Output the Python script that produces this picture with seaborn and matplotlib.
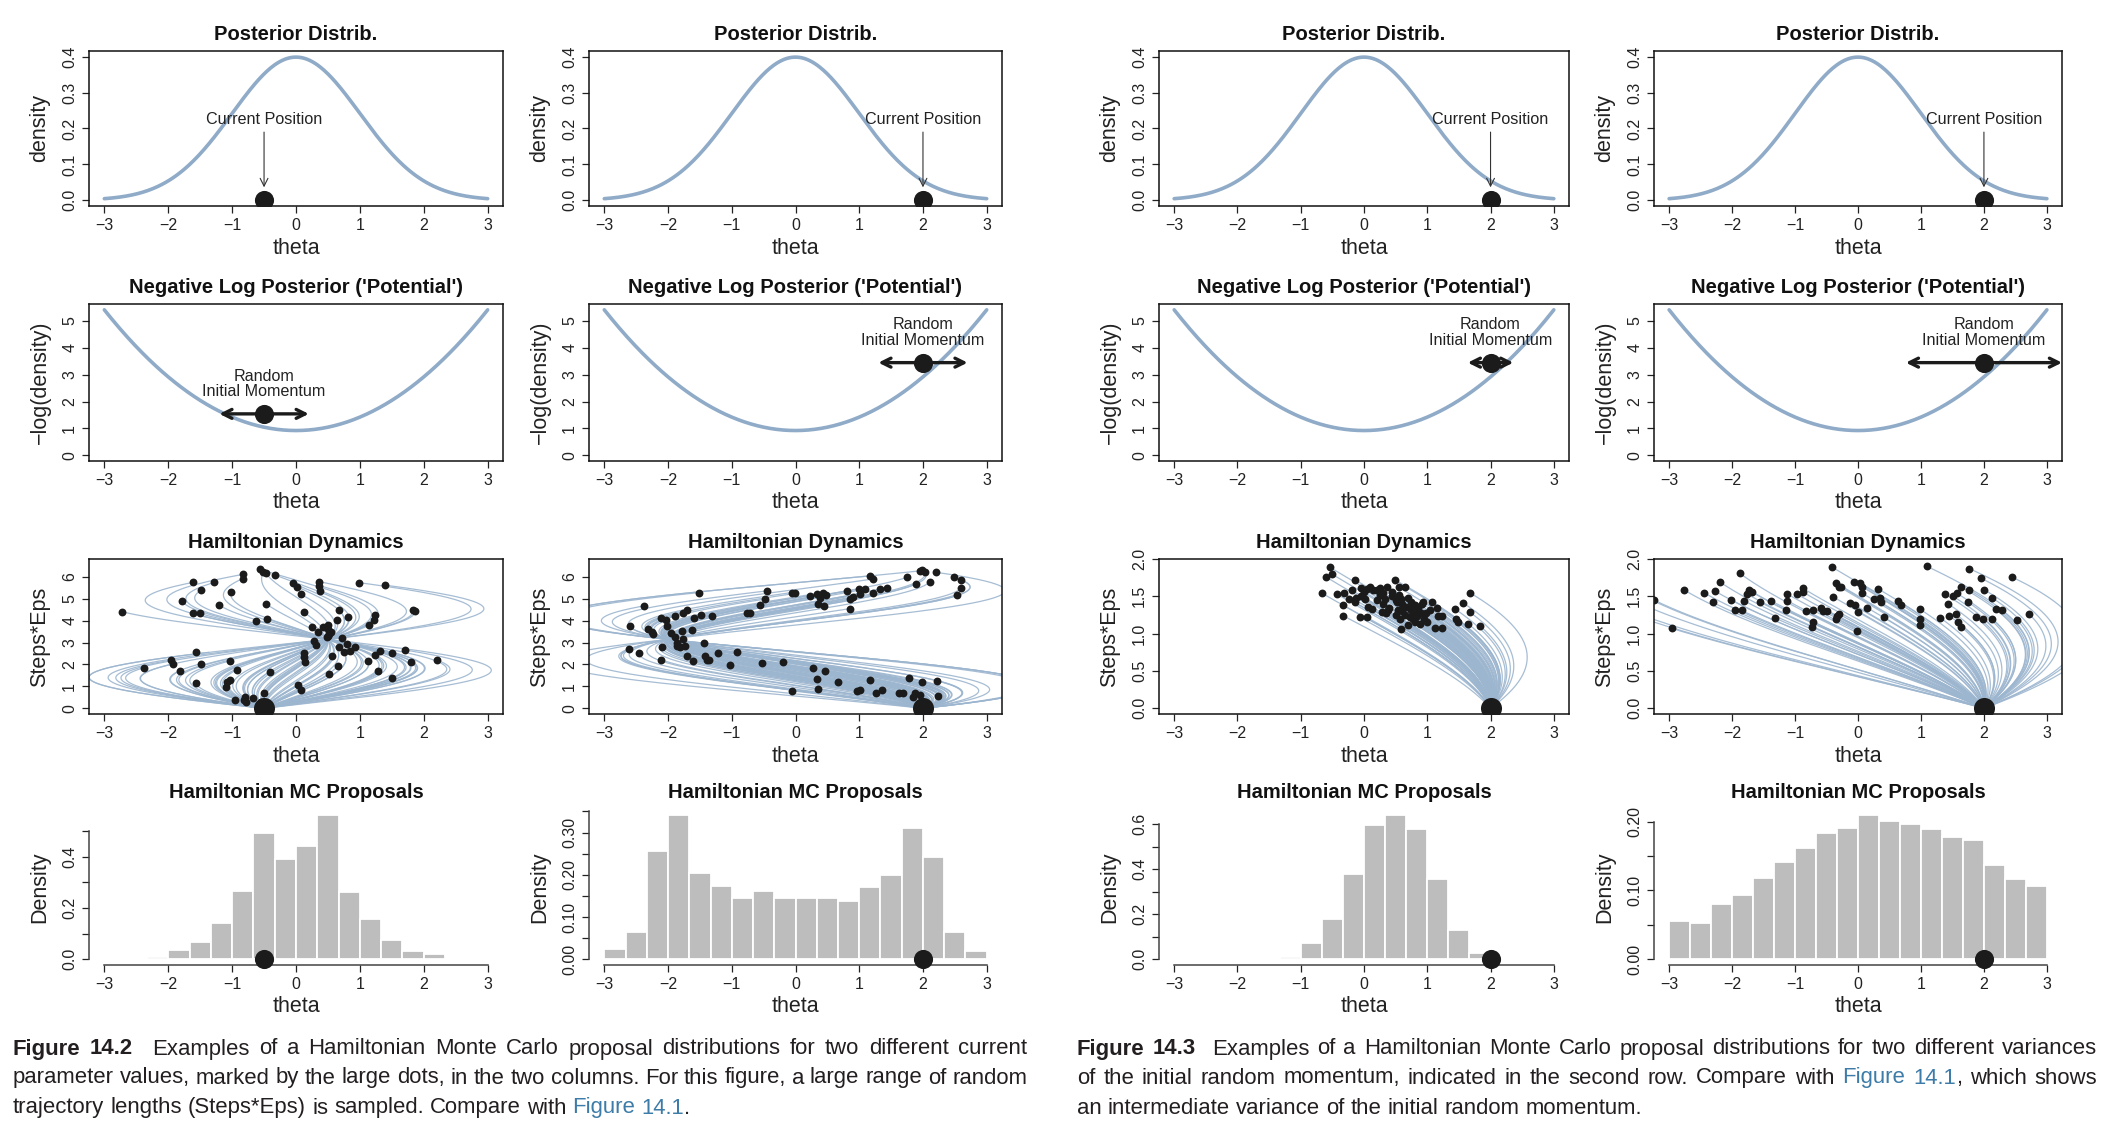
import numpy as np
import pandas as pd
import matplotlib
matplotlib.use("Agg")
import matplotlib.pyplot as plt
import seaborn as sns

sns.set_theme(style="ticks")
plt.rcParams["font.family"] = ["Liberation Sans", "DejaVu Sans"]
plt.rcParams["axes.unicode_minus"] = True

W, H = 2103, 1129

# ---------------- data ----------------
current_theta = [-0.5, 2.0, 2.0, 2.0]
potential_dot_y = [1.54, 3.45, 3.45, 3.45]
momentum_halfwidth = [0.70, 0.70, 0.36, 1.24]

dyn1_theta = [-0.56, -0.51, -0.47, -0.83, -0.83, -0.33, -1.62, -1.28, -1.48, -1.02, -0.05, 0.01, 0.36, 0.36, 0.38,
              0.99, 1.39, -1.78, -1.20, -0.47, 0.08, -2.73, -1.62, -1.51, -0.62, -0.46, 0.12, 0.67, 0.82, 0.64,
              1.24, 1.22, 1.15, 1.83, 1.87,
              0.25, 0.35, 0.42, 0.50, 0.50, 0.52, 0.50, 0.48, 0.55, 0.28, 0.32, 0.72, 0.80, 0.68, 0.75, 0.85,
              0.92, 0.57, 0.12, 0.12, 0.14,
              -1.57, -1.95, -1.92, -2.38, -1.48, -1.82, -1.04, -0.93, -0.41, -1.03, -1.08, -1.10, -1.57, -0.95,
              -0.80, -0.82, -0.78, -0.67, -0.50, -0.55, 0.03, 0.08, 0.52, 0.65, 1.13, 1.23, 1.32, 1.50, 1.70,
              1.80, 2.20, 1.28, 1.50]
dyn1_time = [6.34, 6.23, 6.15, 6.11, 5.92, 6.08, 5.74, 5.74, 5.40, 5.30, 5.70, 5.55, 5.78, 5.60, 5.36,
             5.73, 5.62, 4.89, 4.71, 4.77, 5.20, 4.41, 4.33, 4.33, 4.00, 4.09, 4.39, 4.48, 4.15, 4.03,
             4.24, 4.05, 3.80, 4.50, 4.42,
             3.72, 3.50, 3.72, 3.80, 3.60, 3.40, 3.30, 3.25, 3.50, 3.05, 2.88, 3.20, 2.95, 2.78, 2.55, 2.60,
             2.78, 2.40, 2.50, 2.35, 2.10,
             2.55, 2.20, 2.03, 1.85, 2.04, 1.70, 2.16, 1.75, 1.67, 1.30, 1.22, 0.95, 1.14, 0.36,
             0.50, 0.38, 0.28, 0.46, 0.72, 0.30, 1.05, 0.83, 1.55, 1.92, 2.14, 2.45, 2.60, 2.50, 2.66,
             2.12, 2.20, 1.70, 1.36]

dyn2_theta = [1.99, 2.03, 1.96, 2.21, 1.75, 2.48, 2.60, 2.60, 2.53, 2.11, 1.89, 1.17, 1.22,
              0.81, 0.85, 0.86, 0.90, 0.99, 1.01, 1.09, 1.22, 1.33, 1.43,
              0.22, 0.33, 0.39, 0.43, 0.48, 0.36, 0.44, -0.06, -0.005,
              -0.44, -0.48, -0.56, -0.71, -0.76, -1.51,
              -2.38, -2.11, -2.03, -1.89, -1.77, -1.70, -1.48, -1.60, -1.31,
              -2.60, -2.32, -2.25, -2.23, -2.01, -1.96, -1.89, -1.78, -1.77, -1.63, -1.86, -1.86, -1.82, -1.73,
              -2.10, -2.62, -2.46, -1.44, -1.70, -1.61, -1.42, -1.39, -1.35, -1.22, -2.11, -0.92, -1.02, -0.52,
              -0.20, -0.06,
              0.28, 0.47, 0.34, 0.35, 0.66, 0.97, 1.01, 1.17, 1.26, 1.35, 1.62, 1.69, 1.78, 1.85, 1.88, 1.95,
              1.98, 2.22, 2.24]
dyn2_time = [6.31, 6.20, 6.28, 6.20, 5.97, 5.97, 5.85, 5.50, 5.19, 5.77, 5.67, 6.05, 5.90,
             5.36, 4.98, 4.55, 5.08, 5.44, 5.20, 5.44, 5.24, 5.44, 5.51,
             5.13, 5.20, 5.05, 5.28, 5.16, 4.75, 4.67, 5.28, 5.24,
             5.36, 4.98, 4.72, 4.36, 4.36, 5.28,
             4.67, 4.13, 4.01, 4.21, 4.33, 4.47, 4.24, 4.10, 4.21,
             3.75, 3.63, 3.48, 3.37, 3.75, 3.45, 3.25, 3.52, 3.17, 3.55, 2.99, 2.83, 2.80, 2.83,
             2.80, 2.71, 2.53, 2.99, 2.37, 2.14, 2.40, 2.19, 2.22, 2.50, 2.22, 2.57, 1.96, 2.07,
             2.10, 0.80,
             1.84, 1.72, 1.35, 0.87, 1.19, 0.77, 0.84, 1.30, 0.72, 0.84, 0.72, 0.72, 1.38, 0.51, 0.72, 0.61,
             1.19, 1.26, 0.57]

dyn3_theta = [-0.66, -0.60, -0.54, -0.51, -0.43, -0.33, -0.33, -0.32, -0.23, -0.19, -0.14, -0.12, -0.07, -0.04,
              0.00, 0.02, 0.04, 0.07, 0.12, 0.15, 0.25, 0.28, 0.33, 0.36, 0.38, 0.44, 0.49, 0.52, 0.54, 0.57,
              0.58, 0.59, 0.65, 0.67, 0.70, 0.72, 0.75, 0.78, 0.80, 0.83, 0.88, 0.94, 0.98, 1.07, 1.04, 1.12,
              1.17, 1.23, 1.24, 1.44, 1.46, 1.49, 1.57, 1.65, 1.67, 1.67, 1.84,
              0.05, 0.10, 0.20, 0.30, 0.45, 0.50, 0.55, 0.60, 0.70, 0.75, 0.85, 0.90, 0.95, 0.80, 0.65, 0.40,
              0.30, 0.20, -0.05, -0.15, 1.00, 0.55, 0.60, 0.35, 0.80, 0.72, 0.92, 1.15, 0.50, 0.25]
dyn3_time = [1.54, 1.76, 1.89, 1.80, 1.53, 1.24, 1.38, 1.54, 1.46, 1.58, 1.72, 1.48, 1.22, 1.61,
             1.56, 1.47, 1.22, 1.36, 1.33, 1.58, 1.61, 1.29, 1.47, 1.63, 1.31, 1.56, 1.72, 1.43, 1.32, 1.20,
             1.06, 1.46, 1.63, 1.36, 1.11, 1.22, 1.31, 1.20, 1.38, 1.24, 1.13, 1.43, 1.27, 1.43, 1.31, 1.07,
             1.24, 1.07, 1.24, 1.33, 1.20, 1.15, 1.41, 1.13, 1.29, 1.55, 1.10,
             1.60, 1.62, 1.58, 1.55, 1.50, 1.45, 1.52, 1.40, 1.48, 1.42, 1.35, 1.28, 1.20, 1.15, 1.25, 1.35,
             1.40, 1.45, 1.50, 1.42, 1.15, 1.62, 1.30, 1.27, 1.28, 1.35, 1.40, 1.35, 1.25, 1.52]

dyn4_theta = [-3.24, -2.96, -2.77, -2.45, -2.31, -2.27, -2.19, -2.01, -1.96, -1.88, -1.85, -1.81, -1.76, -1.73,
              -1.68, -1.55, -1.38, -1.32, -1.14, -1.12, -1.12, -0.97, -0.88, -0.88, -0.83, -0.73, -0.72, -0.71,
              -0.58, -0.55, -0.50, -0.41, -0.39, -0.35, -0.35, -0.33, -0.30, -0.30, -0.27, -0.13, -0.06, -0.05,
              -0.01, 0.00, 0.03, 0.07, 0.07, 0.14, 0.25, 0.32, 0.35, 0.36, 0.41, 0.63, 0.68, 0.98, 0.98, 0.99,
              1.10, 1.31, 1.38, 1.43, 1.45, 1.51, 1.57, 1.55, 1.59, 1.64, 1.63, 1.75, 1.76, 1.77, 1.87, 1.96,
              2.00, 1.99, 2.13, 2.13, 2.19, 2.29, 2.44, 2.53, 2.72,
              -3.50, -3.45, -3.60, -3.40, 3.50, 3.40]
dyn4_time = [1.45, 1.07, 1.59, 1.55, 1.42, 1.57, 1.69, 1.45, 1.31, 1.81, 1.31, 1.44, 1.53, 1.58,
             1.56, 1.42, 1.44, 1.21, 1.32, 1.44, 1.53, 1.53, 1.61, 1.56, 1.30, 1.09, 1.16, 1.31,
             1.35, 1.30, 1.30, 1.89, 1.49, 1.20, 1.68, 1.24, 1.63, 1.26, 1.63, 1.41, 1.69, 1.38,
             1.04, 1.29, 1.68, 1.63, 1.54, 1.35, 1.47, 1.60, 1.48, 1.42, 1.22, 1.44, 1.39, 1.33, 1.20, 1.12,
             1.90, 1.21, 1.53, 1.40, 1.24, 1.50, 1.54, 1.26, 1.15, 1.09, 1.63, 1.42, 1.59, 1.87, 1.22, 1.74,
             1.59, 1.20, 1.20, 1.48, 1.33, 1.31, 1.76, 1.18, 1.26,
             1.55, 1.40, 1.30, 1.20, 1.20, 1.45]

bin_width = 1.0 / 3.0
hist_left_edge = [-8 / 3, -3.0, -4 / 3, -3.0]
hist1_density = [0.005, 0.009, 0.035, 0.068, 0.143, 0.266, 0.491, 0.391, 0.442, 0.563, 0.261, 0.156,
                 0.073, 0.031, 0.020]
hist2_density = [0.024, 0.065, 0.257, 0.342, 0.203, 0.174, 0.144, 0.161, 0.146, 0.144, 0.144, 0.139,
                 0.172, 0.200, 0.311, 0.241, 0.065, 0.019]
hist3_density = [0.010, 0.072, 0.180, 0.380, 0.597, 0.642, 0.579, 0.356, 0.128, 0.027, 0.004]
hist4_density = [0.055, 0.052, 0.080, 0.093, 0.118, 0.142, 0.161, 0.183, 0.191, 0.210, 0.201, 0.196,
                 0.190, 0.177, 0.174, 0.137, 0.117, 0.106]

hist_yticks = [[0.0, 0.1, 0.2, 0.3, 0.4, 0.5],
               [0.0, 0.05, 0.10, 0.15, 0.20, 0.25, 0.30, 0.35],
               [0.0, 0.1, 0.2, 0.3, 0.4, 0.5, 0.6],
               [0.0, 0.05, 0.10, 0.15, 0.20]]
hist_ytick_fmt = ["{:.1f}", "{:.2f}", "{:.1f}", "{:.2f}"]

titles = ["Posterior Distrib.", "Negative Log Posterior ('Potential')", "Hamiltonian Dynamics",
          "Hamiltonian MC Proposals"]
ylabels = ["density", "\u2212log(density)", "Steps*Eps", "Density"]

caption_left = [
    [("Figure 14.2", True, None), ("  Examples of a Hamiltonian Monte Carlo proposal distributions for two different current", False, None)],
    [("parameter values, marked by the large dots, in the two columns. For this figure, a large range of random", False, None)],
    [("trajectory lengths (Steps*Eps) is sampled. Compare with ", False, None), ("Figure 14.1", False, "link"), (".", False, None)],
]
caption_right = [
    [("Figure 14.3", True, None), ("  Examples of a Hamiltonian Monte Carlo proposal distributions for two different variances", False, None)],
    [("of the initial random momentum, indicated in the second row. Compare with ", False, None), ("Figure 14.1", False, "link"), (", which shows", False, None)],
    [("an intermediate variance of the initial random momentum.", False, None)],
]

# ---------------- style ----------------
CURVE = "#8fabc8"
TRAJ = "#9db6cf"
DOT = "#1b1b1b"
BAR = "#bcbdbc"
TXT = "#231f20"
LINK = "#3d7ca8"

col_px = [(89, 503), (589, 1002), (1159, 1569), (1654, 2062)]
row_px = [(51, 206), (304, 461), (559, 714), (809, 965)]

fig = plt.figure(figsize=(W / 100, H / 100), dpi=100)
fig.patch.set_facecolor("white")


def make_ax(c, r):
    l, rr = col_px[c]
    t, b = row_px[r]
    ax = fig.add_axes([l / W, 1 - b / H, (rr - l) / W, (b - t) / H])
    ax.set_facecolor("white")
    return ax, rr - l, b - t


def style_ax(ax, w, h, r, box=True):
    for s in ax.spines.values():
        s.set_color("#111111")
        s.set_linewidth(1.1)
        s.set_visible(box)
    ax.tick_params(direction="out", length=5, width=0.9, labelsize=11.5, pad=3.5, colors="#222222")
    ax.set_xticks([-3, -2, -1, 0, 1, 2, 3])
    ax.set_xlim(-3.24, 3.24)
    ax.set_title(titles[r], fontsize=14.5, fontweight="bold", pad=8, color="#111111")
    ax.set_xlabel("theta", fontsize=15.5, color="#222222", va="center")
    ax.xaxis.set_label_coords(0.5, -42 / h)
    ax.set_ylabel(ylabels[r], fontsize=15.5, color="#222222", va="center")
    ax.yaxis.set_label_coords(-49 / w, 0.5)
    plt.setp(ax.get_yticklabels(), rotation=90, va="center")


def trajectories(x0, ends_theta, ends_time, pmax):
    frames = []
    for k, (xe, T) in enumerate(zip(ends_theta, ends_time)):
        s = np.sin(T)
        p0 = (xe - x0 * np.cos(T)) / s if abs(s) > 1e-6 else 0.0
        p0 = float(np.clip(p0, -pmax, pmax))
        t = np.linspace(0, T, 160)
        frames.append(pd.DataFrame({"theta": x0 * np.cos(t) + p0 * np.sin(t), "time": t, "traj": k}))
    return pd.concat(frames, ignore_index=True)


theta_grid = np.linspace(-3, 3, 301)
dens = np.exp(-theta_grid ** 2 / 2) / np.sqrt(2 * np.pi)
curve_df = pd.DataFrame({"theta": theta_grid, "density": dens, "nlog": -np.log(dens)})

dyn_theta = [dyn1_theta, dyn2_theta, dyn3_theta, dyn4_theta]
dyn_time = [dyn1_time, dyn2_time, dyn3_time, dyn4_time]
hist_density = [hist1_density, hist2_density, hist3_density, hist4_density]

for c in range(4):
    x0 = current_theta[c]
    # row 1: posterior
    ax, w, h = make_ax(c, 0)
    sns.lineplot(data=curve_df, x="theta", y="density", color=CURVE, lw=2.6, ax=ax)
    ax.set_ylim(-0.016, 0.416)
    ax.set_yticks([0, 0.1, 0.2, 0.3, 0.4])
    ax.set_yticklabels(["0.0", "0.1", "0.2", "0.3", "0.4"])
    sns.scatterplot(x=[x0], y=[0.0], s=190, color=DOT, linewidth=0, ax=ax, zorder=5)
    ax.annotate("", xy=(x0, 0.036), xytext=(x0, 0.19),
                arrowprops=dict(arrowstyle="->", lw=0.8, color="#333333", mutation_scale=14,
                                shrinkA=0, shrinkB=0))
    ax.text(x0, 0.225, "Current Position", ha="center", va="center", fontsize=11.6, color="#222222")
    style_ax(ax, w, h, 0)

    # row 2: potential
    ax, w, h = make_ax(c, 1)
    sns.lineplot(data=curve_df, x="theta", y="nlog", color=CURVE, lw=2.6, ax=ax)
    ax.set_ylim(-0.217, 5.636)
    ax.set_yticks([0, 1, 2, 3, 4, 5])
    yd = potential_dot_y[c]
    hw = momentum_halfwidth[c]
    ax.annotate("", xy=(x0 + hw, yd), xytext=(x0 - hw, yd),
                arrowprops=dict(arrowstyle="<->", lw=2.4, color=DOT, mutation_scale=16,
                                shrinkA=0, shrinkB=0), zorder=6)
    sns.scatterplot(x=[x0], y=[yd], s=190, color=DOT, linewidth=0, ax=ax, zorder=7)
    ax.text(x0, yd + 1.12, "Random\nInitial Momentum", ha="center", va="center", fontsize=11.6,
            color="#222222", linespacing=1.05)
    style_ax(ax, w, h, 1)

    # row 3: dynamics
    ax, w, h = make_ax(c, 2)
    pmax = 3.2 if c < 2 else 5.0
    tdf = trajectories(x0, dyn_theta[c], dyn_time[c], pmax)
    sns.lineplot(data=tdf, x="theta", y="time", units="traj", estimator=None, sort=False,
                 color=TRAJ, lw=0.9, alpha=0.9, ax=ax)
    sns.scatterplot(x=dyn_theta[c], y=dyn_time[c], s=32, color=DOT, linewidth=0, ax=ax, zorder=5)
    sns.scatterplot(x=[x0], y=[0.0], s=230, color=DOT, linewidth=0, ax=ax, zorder=6)
    if c < 2:
        ax.set_ylim(-0.26, 6.81)
        ax.set_yticks([0, 1, 2, 3, 4, 5, 6])
    else:
        ax.set_ylim(-0.077, 2.0)
        ax.set_yticks([0, 0.5, 1.0, 1.5, 2.0])
        ax.set_yticklabels(["0.0", "0.5", "1.0", "1.5", "2.0"])
    style_ax(ax, w, h, 2)

    # row 4: histogram
    ax, w, h = make_ax(c, 3)
    heights = np.array(hist_density[c])
    edges = hist_left_edge[c] + bin_width * np.arange(len(heights) + 1)
    centers = (edges[:-1] + edges[1:]) / 2
    hdf = pd.DataFrame({"center": centers, "dens": heights})
    sns.histplot(data=hdf, x="center", weights="dens", bins=list(edges), stat="count", color=BAR,
                 edgecolor="white", linewidth=1.3, alpha=1.0, ax=ax)
    sns.scatterplot(x=[x0], y=[0.0], s=190, color=DOT, linewidth=0, ax=ax, zorder=6, clip_on=False)
    mx = heights.max()
    ax.set_ylim(-0.04 * mx, 1.04 * mx)
    yt = hist_yticks[c]
    ax.set_yticks(yt)
    ax.set_yticklabels([hist_ytick_fmt[c].format(v) if i % 2 == 0 else "" for i, v in enumerate(yt)])
    style_ax(ax, w, h, 3, box=False)
    ax.spines["left"].set_visible(True)
    ax.spines["bottom"].set_visible(True)
    ax.spines["left"].set_bounds(yt[0], yt[-1])
    ax.spines["bottom"].set_bounds(-3, 3)
    ax.spines["left"].set_color("#444444")
    ax.spines["bottom"].set_color("#444444")

# ---------------- captions (justified) ----------------
renderer = fig.canvas.get_renderer()


def text_width(txt, size, bold):
    t = fig.text(0, 0, txt, fontsize=size, fontweight="bold" if bold else "normal")
    wdt = t.get_window_extent(renderer).width
    t.remove()
    return wdt


def line_words(segs):
    words = [[]]
    weights = []
    for txt, bold, col in segs:
        parts = txt.split(" ")
        for i, p in enumerate(parts):
            if i > 0:
                if words[-1]:
                    words.append([])
                    weights.append(1)
                elif weights:
                    weights[-1] += 1
            if p:
                words[-1].append((p, bold, col))
    if not words[-1]:
        words.pop()
    return words, weights


def natural_width(lines, size):
    sp = text_width("x x", size, False) - text_width("xx", size, False)
    out = []
    for segs in lines:
        words, weights = line_words(segs)
        wsum = sum(text_width(p, size, b) for wd in words for (p, b, c) in wd)
        out.append(wsum + sp * sum(weights))
    return out


def draw_caption(x_px, ys, lines, size, target):
    sp = text_width("x x", size, False) - text_width("xx", size, False)
    for li, (y, segs) in enumerate(zip(ys, lines)):
        words, weights = line_words(segs)
        widths = [[text_width(p, size, b) for (p, b, c) in wd] for wd in words]
        wsum = sum(sum(ws) for ws in widths)
        if li < len(lines) - 1 and sum(weights) > 0:
            unit = (target - wsum) / sum(weights)
        else:
            unit = sp
        x = x_px
        for k, wd in enumerate(words):
            for (p, b, c), pw in zip(wd, widths[k]):
                fig.text(x / W, 1 - y / H, p, fontsize=size, fontweight="bold" if b else "normal",
                         color=LINK if c == "link" else TXT, ha="left", va="center")
                x += pw
            if k < len(weights):
                x += unit * weights[k]


base = 13.0
nat_l = natural_width(caption_left[:2], base)
nat_r = natural_width(caption_right[:2], base)
size_cap = min(base * 1014 / max(nat_l), base * 1020 / max(nat_r))
draw_caption(13, [1049, 1078, 1108], caption_left, size_cap, 1014)
draw_caption(1077, [1049, 1078, 1108], caption_right, size_cap, 1020)

fig.savefig("out.png", dpi=100, facecolor="white")
